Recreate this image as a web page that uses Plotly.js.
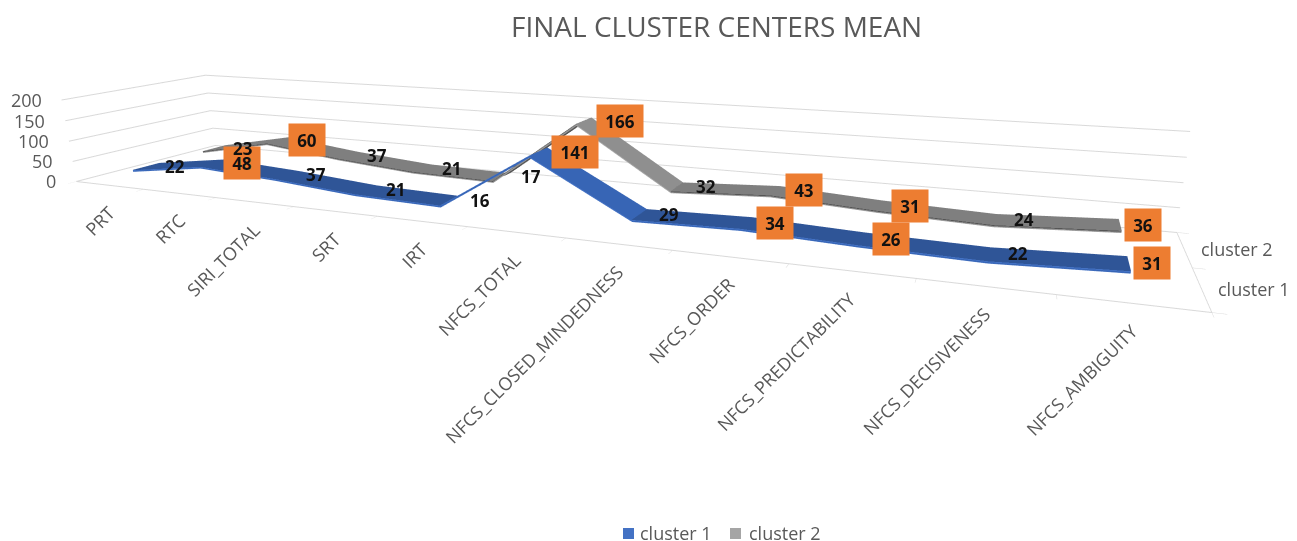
<!DOCTYPE html>
<html><head><meta charset="utf-8">
<script src="https://cdn.plot.ly/plotly-3.0.1.min.js"></script>
<style>html,body{margin:0;padding:0;background:#fff;overflow:hidden}#w{position:relative;width:1297px;height:541px;overflow:hidden}#c{position:absolute;left:0;top:-208px;width:1370px;height:771px}</style>
</head><body><div id="w"><div id="c"></div></div>
<script>
const categories=["PRT","RTC","SIRI_TOTAL","SRT","IRT","NFCS_TOTAL","NFCS_CLOSED_MINDEDNESS","NFCS_ORDER","NFCS_PREDICTABILITY","NFCS_DECISIVENESS","NFCS_AMBIGUITY"];
const cluster1=[22,48,37,21,16,141,29,34,26,22,31];
const cluster2=[23,60,37,21,17,166,32,43,31,24,36];
const boxedCategories=["RTC","NFCS_TOTAL","NFCS_ORDER","NFCS_PREDICTABILITY","NFCS_AMBIGUITY"];
const seriesNames=["cluster 1","cluster 2"];
const zTicks=[0,50,100,150,200];
const W=1370,H=771,TOP=208;
const px=x=>x/W, py=y=>1-(y+TOP)/H;
const FONT='Open Sans, sans-serif', GREY='#595959';
function ribbon(vals,yc,name,c){
  const d=0.18,t=5,eps=0.001;
  const X=[],Z=[],C=[],E=[];
  for(let i=0;i<vals.length-1;i++){
    const s=vals[i+1]-vals[i];
    const k=s>50?1.5:(s<-50?2.5:0.5);
    X.push(i+(i?eps:0),i+1);
    Z.push(vals[i],vals[i+1]);
    C.push(k,k);
    E.push(3.5,3.5);
  }
  return {type:'surface',name:name,showscale:false,hoverinfo:'skip',
    x:[X,X,X],
    y:[X.map(()=>yc+d),X.map(()=>yc-d),X.map(()=>yc-d)],
    z:[Z,Z,Z.map(v=>v-t)],
    surfacecolor:[C,C,E],
    colorscale:[[0,c.flat],[0.25,c.flat],[0.25,c.rise],[0.5,c.rise],[0.5,c.fall],[0.75,c.fall],[0.75,c.edge],[1,c.edge]],cmin:0,cmax:4,
    lighting:{ambient:1,diffuse:0,specular:0,roughness:1,fresnel:0},
    contours:{x:{highlight:false},y:{highlight:false},z:{highlight:false}}};
}
const traces=[
  ribbon(cluster1,0,seriesNames[0],{flat:'#2f5597',rise:'#4472c4',fall:'#3765b5',edge:'#4472c4'}),
  ribbon(cluster2,1,seriesNames[1],{flat:'#7f7f7f',rise:'#555555',fall:'#8f8f8f',edge:'#a5a5a5'})
];
const ann=[];
function lab(vals,yc){vals.forEach((v,i)=>{const b=boxedCategories.includes(categories[i]);
  const o={x:i,y:yc,z:v,text:'<b>'+v+'</b>',showarrow:false,xshift:29+(i===5?7:(i===10?-6:0)),
  font:{family:FONT,size:17,color:'#111'},
  bgcolor:b?'#ed7d31':'rgba(0,0,0,0)',borderpad:0};
  if(b){o.width=String(v).length>2?46:36;o.height=32;}
  ann.push(o);});}
lab(cluster1,0);lab(cluster2,1);
categories.forEach((c,i)=>ann.push({x:i,y:-0.5,z:0,text:c,showarrow:false,textangle:-45,xanchor:'right',yanchor:'top',xshift:13,yshift:-13,
  font:{family:FONT,size:18,color:GREY}}));
seriesNames.forEach((s,j)=>ann.push({x:10.5,y:j,z:0,text:s,showarrow:false,xanchor:'left',xshift:15,
  font:{family:FONT,size:18,color:GREY}}));
zTicks.forEach(v=>ann.push({x:-0.5,y:-0.5,z:v,text:String(v),showarrow:false,xanchor:'right',xshift:-18,
  font:{family:FONT,size:18,color:GREY}}));
const grid='#d9d9d9';
const edges=[];for(let i=0;i<=categories.length;i++)edges.push(i-0.5);
function legendSwatch(x0,color){return {type:'rect',xref:'paper',yref:'paper',x0:px(x0),x1:px(x0+11),y0:py(539),y1:py(528),fillcolor:color,line:{width:0}};}
function paperText(x,y,text,size,anchor){return {xref:'paper',yref:'paper',x:px(x),y:py(y),xanchor:anchor,yanchor:'middle',showarrow:false,text:text,font:{family:FONT,size:size,color:GREY}};}
const layout={
  width:W,height:H,margin:{l:0,r:0,t:0,b:0},paper_bgcolor:'#fff',showlegend:false,
  scene:{
    domain:{x:[0,1],y:[0,1]},
    aspectmode:'manual',aspectratio:{x:3,y:0.514,z:0.246},
    camera:{eye:{x:1.1466,y:-2.1327,z:0.5766},center:{x:0.306,y:0.1014,z:-0.0486},up:{x:-0.0809,y:0.2402,z:0.9673},projection:{type:'perspective'}},
    xaxis:{range:[-0.5,10.5],showticklabels:false,title:{text:''},showgrid:false,tickvals:edges,ticks:'outside',ticklen:8,tickcolor:grid,showline:true,linecolor:grid,linewidth:2,showbackground:false,zeroline:false,showspikes:false},
    yaxis:{range:[-0.5,1.5],showticklabels:false,title:{text:''},showgrid:false,tickvals:[-0.5,0.5,1.5],ticks:'outside',ticklen:8,tickcolor:grid,showline:true,linecolor:grid,linewidth:2,showbackground:false,zeroline:false,showspikes:false},
    zaxis:{range:[0,200],tickvals:zTicks,showticklabels:false,title:{text:''},showgrid:true,gridcolor:grid,gridwidth:2,showline:false,showbackground:false,zeroline:false,showspikes:false},
    annotations:ann
  },
  shapes:[legendSwatch(623,'#4472c4'),legendSwatch(730,'#a5a5a5')],
  annotations:[
    paperText(716,26,'FINAL CLUSTER CENTERS MEAN',28,'center'),
    paperText(638,533,seriesNames[0],18,'left'),
    paperText(747,533,seriesNames[1],18,'left')
  ]
};
Plotly.newPlot('c',traces,layout,{displayModeBar:false});
</script></body></html>
